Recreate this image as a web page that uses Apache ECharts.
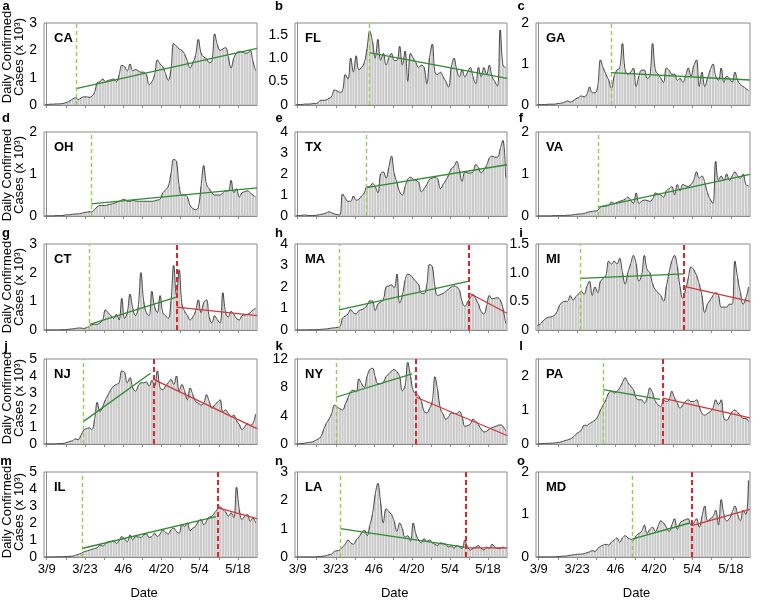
<!DOCTYPE html>
<html><head><meta charset="utf-8">
<script src="https://cdn.jsdelivr.net/npm/echarts@6.0.0/dist/echarts.min.js"></script>
<style>html,body{margin:0;padding:0;background:#fff}#c{width:763px;height:608px}</style>
</head><body><div id="c"></div>
<script>
// ---- data: one value per day starting 3/8 (day -1 relative to 3/9), thousands of cases ----
const firstDay = -1;          // 3/8
const lastAxisDay = 77;       // right edge of each panel
const dateLabels = ['3/9', '3/23', '4/6', '4/20', '5/4', '5/18'];
const labelDays = [0, 14, 28, 42, 56, 70];
const tickDays = [0, 7, 14, 21, 28, 35, 42, 49, 56, 63, 70];
const states = ['CA','FL','GA','OH','TX','VA','CT','MA','MI','NJ','NY','PA','IL','LA','MD'];
const panelLetters = ['a','b','c','d','e','f','g','h','i','j','k','l','m','n','o'];
const yMax = [3, 1.75, 2, 2, 4, 2, 3, 4, 1.5, 5, 12, 2.5, 5, 3, 2];
const yStep = [1, 0.5, 1, 1, 1, 1, 1, 1, 0.5, 1, 4, 1, 1, 1, 1];
const yDecimals = [0, 1, 0, 0, 0, 0, 0, 0, 1, 0, 0, 0, 0, 0, 0];

const caCases = [0.02,0.02,0.03,0.03,0.04,0.04,0.05,0.07,0.1,0.15,
  0.22,0.27,0.2,0.25,0.3,0.3,0.28,0.32,0.45,0.82,
  0.85,0.95,0.85,0.9,0.92,0.95,0.85,1.1,1.45,1.4,
  1.25,1.5,1.25,1.3,1.25,1.2,1.2,1.1,0.75,0.85,
  1.1,1.65,1.5,1.4,1.15,0.9,1.3,2.25,2.15,2.05,
  2.0,1.85,1.6,1.35,1.55,1.8,2.4,1.9,1.75,1.7,
  1.55,1.6,2.6,2.2,2.0,2.05,2.1,1.75,1.35,1.7,
  1.9,1.95,1.95,1.9,1.9,2.0,1.6,1.25];
const flCases = [0.01,0.01,0.01,0.02,0.02,0.02,0.03,0.03,0.05,0.1,
  0.1,0.11,0.14,0.18,0.32,0.3,0.27,0.3,0.65,0.55,
  1.0,0.7,1.05,0.75,0.8,0.9,1.2,1.58,1.35,1.0,
  1.4,0.95,1.1,0.85,1.0,1.1,0.95,0.95,1.25,0.85,
  1.15,0.5,1.1,1.0,0.9,0.8,0.85,0.8,0.45,1.0,
  1.3,0.7,0.65,0.7,0.6,0.5,0.38,0.8,1.0,0.75,
  0.6,0.75,0.6,0.7,0.8,0.6,0.45,0.8,0.6,0.8,
  0.65,0.85,0.6,0.5,0.4,1.6,0.85,0.8];
const gaCases = [0.01,0.01,0.01,0.01,0.02,0.02,0.02,0.03,0.04,0.05,
  0.07,0.1,0.07,0.1,0.15,0.18,0.22,0.2,0.25,0.44,
  0.3,0.3,0.45,1.1,0.9,0.75,0.6,0.4,0.7,0.85,
  0.9,1.5,0.85,0.75,0.8,0.9,0.45,0.7,0.85,0.85,
  0.65,0.7,1.5,0.85,0.75,0.65,0.55,0.9,0.85,0.75,
  0.75,0.6,0.65,0.55,0.7,0.9,0.7,0.95,1.1,0.45,
  0.8,0.45,0.65,0.85,1.0,0.7,0.6,0.9,0.55,0.7,
  0.65,0.55,0.8,0.6,0.5,0.45,0.4,0.35];
const ohCases = [0,0,0,0,0.01,0.01,0.01,0.02,0.03,0.03,
  0.04,0.05,0.05,0.06,0.08,0.09,0.1,0.1,0.15,0.22,
  0.25,0.25,0.25,0.27,0.28,0.3,0.32,0.35,0.38,0.4,
  0.35,0.35,0.37,0.36,0.35,0.35,0.35,0.35,0.35,0.35,
  0.36,0.38,0.4,0.55,0.62,0.7,1.0,1.35,1.3,0.7,
  0.5,0.5,0.45,0.25,0.18,0.15,0.2,0.7,1.2,0.75,
  0.65,0.55,0.5,0.5,0.5,0.55,0.6,0.6,0.85,0.55,
  0.65,0.45,0.55,0.58,0.6,0.55,0.5,0.45];
const txCases = [0.01,0.02,0.03,0.05,0.03,0.02,0.02,0.03,0.05,0.08,
  0.1,0.15,0.2,0.15,0.1,0.07,0.05,1.05,0.85,0.7,
  0.7,0.95,0.75,0.8,0.95,1.1,1.4,1.4,1.55,1.4,
  1.1,2.0,2.1,1.8,2.3,2.85,2.0,1.6,1.15,1.0,
  1.4,1.75,1.85,1.75,1.7,1.6,1.15,1.3,1.5,1.75,
  1.8,1.85,1.75,1.3,1.5,1.7,1.95,2.25,2.35,2.6,
  2.15,1.65,2.1,2.05,2.05,2.1,2.45,2.3,2.05,2.2,
  2.4,2.75,2.85,2.8,2.8,3.2,3.6,1.8];
const vaCases = [0,0,0,0,0,0,0.01,0.01,0.01,0.01,
  0.01,0.02,0.02,0.03,0.04,0.045,0.05,0.06,0.08,0.1,
  0.11,0.12,0.13,0.22,0.23,0.24,0.25,0.33,0.3,0.32,
  0.35,0.37,0.4,0.45,0.38,0.3,0.55,0.3,0.35,0.38,
  0.37,0.35,0.4,0.55,0.52,0.5,0.45,0.6,0.65,0.7,
  0.5,0.75,0.6,0.75,0.72,0.7,0.75,0.85,1.05,0.9,
  0.95,0.8,0.55,0.4,0.3,1.3,0.85,0.95,0.85,1.0,
  0.85,0.95,1.05,0.95,0.9,1.0,0.75,0.72];
const ctCases = [0,0,0,0,0,0,0.01,0.01,0.02,0.03,
  0.04,0.05,0.07,0.07,0.05,0.08,0.12,0.18,0.2,0.2,
  0.25,0.35,0.7,0.6,0.5,0.4,0.55,0.35,1.1,0.4,
  0.6,1.25,0.75,0.5,0.8,2.0,1.0,0.6,0.5,1.35,
  0.8,0.6,1.2,0.6,0.5,0.4,1.0,2.25,1.2,2.1,
  0.9,0.65,0.5,0.35,0.45,0.65,1.05,0.6,0.95,1.05,
  0.45,0.25,0.5,0.35,0.25,1.3,0.6,0.45,0.65,0.55,
  0.4,0.35,0.5,0.52,0.55,0.6,0.7,0.75];
const maCases = [0,0,0,0,0,0.01,0.01,0.01,0.02,0.03,
  0.04,0.05,0.07,0.09,0.1,0.12,0.15,0.55,0.65,0.75,
  0.95,0.8,0.75,0.9,0.95,1.0,1.15,1.35,1.35,0.9,
  1.2,1.3,1.4,2.0,2.05,2.1,1.95,2.6,1.25,1.6,
  2.3,2.6,2.55,2.4,2.25,2.1,1.7,1.7,2.1,3.05,
  2.95,2.0,1.6,1.65,1.7,1.8,1.9,2.0,2.05,2.0,
  1.85,1.3,1.1,1.3,1.5,1.65,1.45,1.2,0.85,0.75,
  1.1,1.6,1.45,1.48,1.5,1.4,1.0,0.3];
const miCases = [0.08,0.1,0.15,0.2,0.22,0.23,0.25,0.3,0.42,0.48,
  0.5,0.5,0.6,0.52,0.58,0.63,0.68,0.62,0.75,0.85,
  0.6,0.75,0.65,0.85,0.9,0.95,1.2,1.15,1.2,1.15,
  1.25,1.0,0.8,1.0,1.15,1.3,1.15,0.85,0.95,1.3,
  1.05,1.0,0.8,0.7,0.65,0.6,0.5,0.75,1.0,1.2,
  1.3,1.1,0.75,0.55,0.7,0.9,1.1,1.05,0.95,0.8,
  0.6,0.3,0.45,0.52,0.6,0.65,0.6,0.4,0.4,0.4,
  0.45,0.45,1.2,0.9,0.65,0.45,0.55,0.75];
const njCases = [0,0,0,0,0.01,0.02,0.03,0.05,0.1,0.15,
  0.2,0.3,0.25,0.5,0.8,0.9,0.95,0.85,1.4,2.45,
  1.9,2.2,2.6,2.9,3.2,3.4,3.5,3.6,4.3,4.2,
  3.6,3.9,3.3,3.1,3.4,3.6,3.6,3.65,3.4,3.75,
  3.4,4.3,3.3,3.2,3.4,3.6,3.8,3.5,4.0,3.1,
  3.5,3.1,2.6,3.3,2.9,2.5,2.4,2.3,2.4,2.9,
  2.5,2.1,2.3,2.45,2.6,1.9,2.0,1.8,1.6,1.7,
  1.35,1.15,0.85,1.0,1.2,1.1,1.2,1.75];
const nyCases = [0,0.02,0.05,0.1,0.2,0.25,0.3,0.5,0.7,1.0,
  2.0,2.9,3.5,4.3,5.5,5.2,5.0,4.8,5.6,6.5,
  7.4,7.6,7.3,9.2,8.5,8.0,9.5,10.5,10.7,9.5,
  8.5,8.5,8.7,9.5,9.9,10.3,10.5,10.2,9.5,7.5,
  8.2,11.5,9.5,7.5,7.1,6.8,6.0,4.6,4.4,5.0,
  6.0,9.5,7.5,5.0,4.2,3.5,3.8,4.4,4.3,4.3,
  4.6,3.8,2.5,2.6,2.8,3.5,3.2,2.7,2.1,1.7,
  1.8,2.1,2.3,2.45,2.6,2.7,2.5,1.8];
const paCases = [0,0.01,0.01,0.02,0.02,0.025,0.03,0.04,0.05,0.07,
  0.1,0.12,0.15,0.2,0.28,0.34,0.4,0.55,0.55,0.6,
  0.65,0.7,0.8,1.0,1.15,1.3,1.5,1.55,1.5,1.55,
  1.65,1.8,1.95,1.8,1.7,1.6,1.35,1.3,1.3,1.2,
  1.35,1.65,1.5,1.25,1.15,1.1,1.3,1.25,1.3,1.55,
  1.35,1.2,1.05,1.15,1.25,1.3,1.25,1.25,1.3,1.1,
  0.9,0.85,0.9,0.95,1.05,1.3,1.15,1.3,0.75,0.7,
  0.8,0.95,1.0,0.92,0.85,0.75,0.75,0.65];
const ilCases = [0,0,0,0,0.01,0.01,0.01,0.02,0.03,0.04,
  0.05,0.1,0.15,0.2,0.3,0.35,0.4,0.45,0.5,0.55,
  0.7,0.65,0.75,0.9,0.92,0.95,0.8,0.95,1.2,1.05,
  0.9,1.3,1.0,1.2,1.18,1.15,1.3,1.35,1.15,1.2,
  1.4,1.2,1.35,1.6,1.45,1.35,1.6,1.7,1.5,1.4,
  1.9,1.8,2.0,1.55,1.7,1.8,2.1,2.2,1.9,2.1,
  2.35,2.4,2.6,2.8,2.95,2.8,2.65,2.4,2.6,2.3,
  4.1,2.8,2.2,2.4,2.5,2.1,2.3,2.0];
const laCases = [0,0,0,0,0,0,0,0,0.01,0.02,
  0.03,0.05,0.08,0.1,0.2,0.22,0.25,0.35,0.45,0.6,
  0.5,0.45,0.6,0.7,0.85,0.95,0.75,1.1,1.5,2.2,
  2.6,1.9,1.2,1.7,1.6,1.5,1.25,0.9,1.2,1.0,
  0.7,0.75,0.55,1.2,0.8,0.6,0.5,0.65,0.55,0.6,
  0.5,0.45,0.4,0.5,0.48,0.45,0.35,0.4,0.3,0.4,
  0.35,0.3,0.6,0.35,0.25,0.3,0.35,0.4,0.3,0.25,
  0.35,0.3,0.45,0.35,0.3,0.3,0.35,0.3];
const mdCases = [0,0,0,0,0,0,0,0.01,0.01,0.02,
  0.02,0.03,0.04,0.05,0.06,0.065,0.07,0.08,0.1,0.12,
  0.15,0.13,0.2,0.25,0.28,0.3,0.28,0.35,0.4,0.45,
  0.35,0.45,0.5,0.45,0.42,0.4,0.5,0.55,0.6,0.75,
  0.55,0.65,0.7,0.6,0.72,0.85,0.8,0.7,0.6,0.75,
  0.9,0.65,0.8,0.85,0.88,0.9,0.75,0.8,0.9,0.7,
  0.95,1.2,0.85,0.9,0.95,1.1,0.75,1.35,1.0,0.85,
  0.9,1.05,1.2,1.0,0.85,1.1,1.0,1.8];

// trend lines: [[startDay, value], [endDay, value]]  (day 0 = 3/9)
const caGreen = [[10.7,0.6],[77,2.07]];
const flGreen = [[26.3,1.12],[77,0.57]];
const gaGreen = [[26.3,0.79],[77,0.61]];
const ohGreen = [[16.3,0.29],[77,0.67]];
const txGreen = [[25.2,1.35],[77,2.44]];
const vaGreen = [[21.8,0.21],[77,0.99]];
const ctGreen = [[15.7,0.2],[47.5,1.15]];
const maGreen = [[15.2,0.94],[63,2.27]];
const miGreen = [[15.2,0.9],[53,0.98]];
const njGreen = [[13.5,1.33],[38,4.16]];
const nyGreen = [[14,6.6],[42.1,9.9]];
const paGreen = [[23.5,1.6],[44.2,1.31]];
const ilGreen = [[12.9,0.5],[62,2.37]];
const laGreen = [[15.7,1.0],[61.4,0.35]];
const mdGreen = [[34,0.42],[55,0.8]];
const ctRed = [[47.5,0.8],[77,0.5]];
const maRed = [[63,1.72],[77,0.78]];
const miRed = [[53,0.76],[77,0.5]];
const njRed = [[39.1,3.8],[77,0.9]];
const nyRed = [[43.6,6.6],[77,1.2]];
const paRed = [[45.2,1.35],[77,0.77]];
const ilRed = [[62.5,2.9],[77,2.26]];
const laRed = [[62,0.32],[77,0.32]];
const mdRed = [[55.8,0.74],[77,1.12]];

const greenDashDay = [10.7,26.3,26.3,16.3,25.2,21.8,15.7,15.2,15.2,13.5,14,23.5,12.9,15.7,34];
const redDashDay = [null,null,null,null,null,null,47.5,63,53,39.1,43.6,45.2,62.5,62,55.8];

const allCases = [caCases,flCases,gaCases,ohCases,txCases,vaCases,ctCases,maCases,miCases,njCases,nyCases,paCases,ilCases,laCases,mdCases];
const allGreen = [caGreen,flGreen,gaGreen,ohGreen,txGreen,vaGreen,ctGreen,maGreen,miGreen,njGreen,nyGreen,paGreen,ilGreen,laGreen,mdGreen];
const allRed = [null,null,null,null,null,null,ctRed,maRed,miRed,njRed,nyRed,paRed,ilRed,laRed,mdRed];

// ---- layout ----
const FONT = '"Liberation Sans", Arial, Helvetica, sans-serif';
const colLeft = [44, 295, 536];
const colW = [213, 212, 214];
const rowTop = [23, 132, 244, 359, 472];
const rowH = [82, 84, 86, 85, 85];
const letterX = [6, 279, 521];
const letterY = [6, 118, 233, 346, 461];
const titleY = [57, 175, 287, 398, 512];

const grid = [], xAxis = [], yAxis = [], series = [], graphic = [];

function text(x, y, str, font, opt) {
  opt = opt || {};
  return {
    type: 'text', x: x, y: y, rotation: opt.rotation || 0, silent: true,
    style: {
      text: str, font: font, fill: '#000',
      align: opt.align || 'center', textAlign: opt.align || 'center',
      verticalAlign: 'middle', textVerticalAlign: 'middle'
    }
  };
}

for (let i = 0; i < 15; i++) {
  const r = Math.floor(i / 3), c = i % 3;
  grid.push({ left: colLeft[c], top: rowTop[r], width: colW[c], height: rowH[r],
    show: true, borderColor: '#8a8a8a', borderWidth: 1, backgroundColor: 'transparent' });
  xAxis.push({
    gridIndex: i, type: 'value', min: firstDay, max: lastAxisDay,
    axisLine: { show: true, onZero: false, lineStyle: { color: '#8a8a8a', width: 1 } },
    axisTick: { show: true, length: 3, customValues: tickDays, lineStyle: { color: '#8a8a8a' } },
    splitLine: { show: false },
    axisLabel: {
      show: r === 4, color: '#000', fontSize: 13, fontFamily: FONT, margin: 6,
      customValues: labelDays,
      formatter: v => dateLabels[labelDays.indexOf(v)] || ''
    }
  });
  const step = yStep[i], dec = yDecimals[i];
  yAxis.push({
    gridIndex: i, type: 'value', min: 0, max: yMax[i], interval: step,
    axisLine: { show: true, lineStyle: { color: '#8a8a8a', width: 1 } },
    axisTick: { show: false }, splitLine: { show: false },
    axisLabel: {
      color: '#000', fontSize: 14, fontFamily: FONT, margin: 7,
      formatter: v => {
        const k = v / step;
        if (Math.abs(k - Math.round(k)) > 1e-6) return '';
        if (v === 0) return '0';
        return dec ? v.toFixed(1) : String(v);
      }
    }
  });

  const pts = allCases[i].map((v, k) => [firstDay + k + 0.5, v]);
  const ml = [{ xAxis: greenDashDay[i], lineStyle: { color: '#92cf4c', type: [4, 3], width: 1.4 } }];
  if (redDashDay[i] !== null) ml.push({ xAxis: redDashDay[i], lineStyle: { color: '#e2232a', type: [5, 3], width: 2 } });
  series.push({
    type: 'bar', xAxisIndex: i, yAxisIndex: i, data: pts, barWidth: 2.2,
    itemStyle: { color: '#cacaca' }, silent: true, z: 2,
    markLine: { symbol: ['none', 'none'], silent: true, label: { show: false }, data: ml, z: 5 }
  });
  series.push({
    type: 'line', xAxisIndex: i, yAxisIndex: i, data: pts, smooth: 0.4, showSymbol: false,
    lineStyle: { color: '#333333', width: 0.9 }, silent: true, z: 3
  });
  series.push({
    type: 'line', xAxisIndex: i, yAxisIndex: i, data: allGreen[i], showSymbol: false,
    lineStyle: { color: '#2e8b2e', width: 1.3 }, silent: true, z: 4
  });
  if (allRed[i]) series.push({
    type: 'line', xAxisIndex: i, yAxisIndex: i, data: allRed[i], showSymbol: false,
    lineStyle: { color: '#d2363a', width: 1.3 }, silent: true, z: 4
  });

  graphic.push(text(colLeft[c] + 10, rowTop[r] + 15, states[i], 'bold 13px ' + FONT, { align: 'left' }));
  graphic.push(text(letterX[c], letterY[r], panelLetters[i], 'bold 13px ' + FONT));
}
for (let r = 0; r < 5; r++) {
  graphic.push(text(7, titleY[r], 'Daily Confirmed', '13px ' + FONT, { rotation: Math.PI / 2 }));
  graphic.push(text(19, titleY[r], 'Cases (x 10³)', '13px ' + FONT, { rotation: Math.PI / 2 }));
}
for (let c = 0; c < 3; c++) {
  graphic.push(text(colLeft[c] + colW[c] * 0.47, 593, 'Date', '13px ' + FONT));
}

const chart = echarts.init(document.getElementById('c'), null, { renderer: 'canvas' });
chart.setOption({ animation: false, backgroundColor: '#fff', grid, xAxis, yAxis, series, graphic });
</script></body></html>
